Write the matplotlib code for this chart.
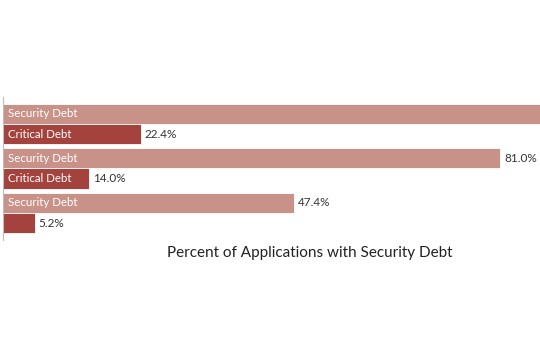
import matplotlib
matplotlib.use("Agg")
import matplotlib.pyplot as plt

# values (percent of applications)
groups = ["Group A", "Group B", "Group C"]
security_debt = [91.0, 81.0, 47.4]
critical_debt = [22.4, 14.0, 5.2]
security_inside = ["Security Debt", "Security Debt", "Security Debt"]
critical_inside = ["Critical Debt", "Critical Debt", ""]
# the top bar runs off the picture, so its value label is not visible
security_shown = [False, True, True]
title = "Percent of Applications with Security Debt"

SEC_COLOR = "#c99288"
CRIT_COLOR = "#a4433e"
TEXT_COLOR = "#333333"

plt.rcParams["font.family"] = ["Lato", "DejaVu Sans"]

fig = plt.figure(figsize=(5.4, 3.6), dpi=100)
# axes deliberately runs past the right edge: the top bar is clipped there
ax = fig.add_axes([3 / 540, 120 / 360, 614 / 540, 143 / 360])

h = 0.45
ys = list(range(len(groups)))
sec_y = [y - h / 2 for y in ys]
crit_y = [y + h / 2 for y in ys]

ax.barh(sec_y, security_debt, height=h, color=SEC_COLOR, edgecolor="white", linewidth=0.6)
ax.barh(crit_y, critical_debt, height=h, color=CRIT_COLOR, edgecolor="white", linewidth=0.6)

for y, v, lab, shown in zip(sec_y, security_debt, security_inside, security_shown):
    ax.text(0.8, y, lab, color="white", fontsize=8.3, va="center", ha="left")
    if shown:
        ax.text(v + 0.6, y, f"{v:.1f}%", color=TEXT_COLOR, fontsize=8.5, va="center", ha="left")
for y, v, lab in zip(crit_y, critical_debt, critical_inside):
    if lab:
        ax.text(0.8, y, lab, color="white", fontsize=8.3, va="center", ha="left")
    ax.text(v + 0.6, y, f"{v:.1f}%", color=TEXT_COLOR, fontsize=8.5, va="center", ha="left")

ax.set_xlim(0, 100)
ax.set_ylim(2.607, -0.607)
ax.set_xticks([])
ax.set_yticks([])
for side in ["top", "right", "bottom"]:
    ax.spines[side].set_visible(False)
ax.spines["left"].set_color("#bbbbbb")
ax.spines["left"].set_linewidth(0.8)

fig.text(310 / 540, 1 - 253 / 360, title, ha="center", va="center",
         fontsize=11, color="#222222")

fig.savefig("out.png", dpi=100)
